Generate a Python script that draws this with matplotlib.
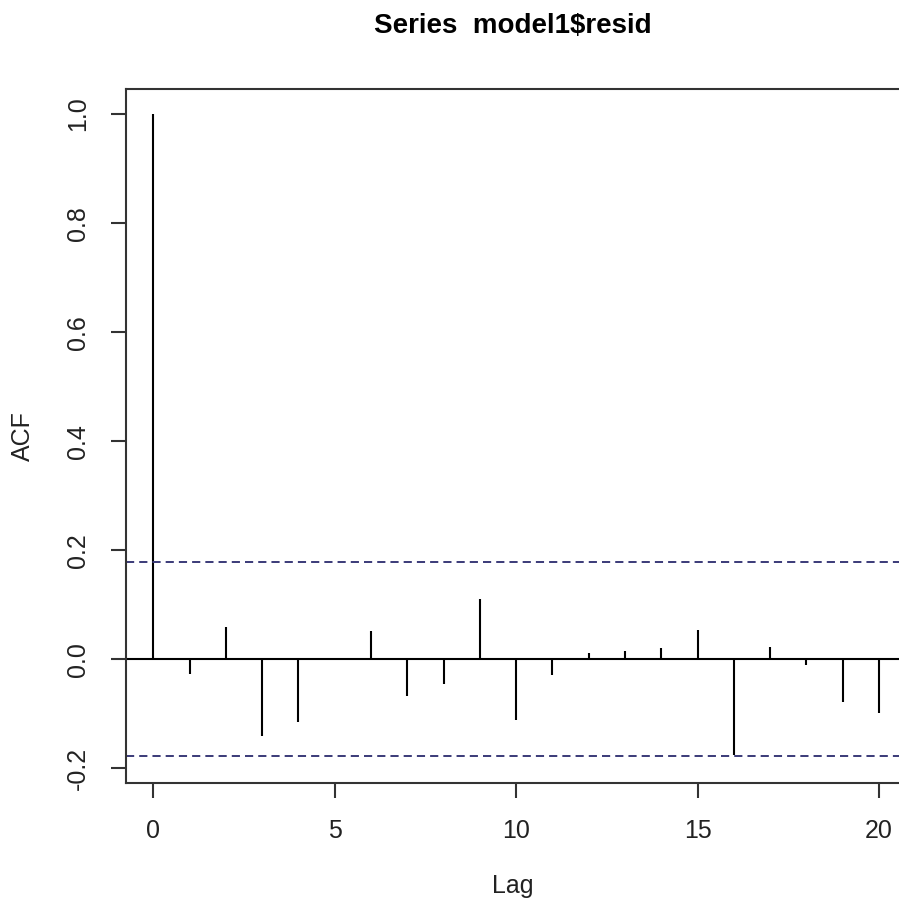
import matplotlib
matplotlib.use('Agg')
import matplotlib.pyplot as plt

# acf of residuals
lags = list(range(0, 21))
acf = [1.0, -0.027, 0.059, -0.140, -0.116, 0.002, 0.052, -0.068, -0.046, 0.111,
       -0.112, -0.028, 0.012, 0.016, 0.020, 0.053, -0.175, 0.023, -0.010, -0.079,
       -0.098]
conf = 0.178

plt.rcParams['font.family'] = ['Liberation Sans', 'DejaVu Sans']

fig = plt.figure(figsize=(8.99, 8.99), dpi=100)
W = H = 899.0
ax = fig.add_axes([126 / W, (H - 783) / H, 1 - 126 / W, (783 - 89) / H])

ax.vlines(lags, 0, acf, color='black', lw=1.5)
ax.axhline(0, color='black', lw=1.5)
ax.axhline(conf, color='#3a3a78', lw=1.4, dashes=(4.2, 2.6))
ax.axhline(-conf, color='#3a3a78', lw=1.4, dashes=(4.2, 2.6))

ax.set_xlim(-0.75, 20.55)
ax.set_ylim(-0.227, 1.046)
ax.set_xticks([0, 5, 10, 15, 20])
ax.set_yticks([-0.2, 0.0, 0.2, 0.4, 0.6, 0.8, 1.0])
ax.set_yticklabels(['-0.2', '0.0', '0.2', '0.4', '0.6', '0.8', '1.0'],
                   rotation=90, va='center')
ax.tick_params(length=11, width=1.5, color='#333333', labelsize=18,
               labelcolor='#222222', pad=15)
for side in ['left', 'bottom', 'top']:
    ax.spines[side].set_color('#333333')
    ax.spines[side].set_linewidth(1.5)
ax.spines['right'].set_visible(False)

ax.set_xlabel('Lag', fontsize=18, color='#222222')
ax.set_ylabel('ACF', fontsize=18, color='#222222')
ax.xaxis.set_label_coords(0.5, -0.148)
ax.yaxis.set_label_coords(-0.1334, 0.5)
ax.xaxis.label.set_va('center')
ax.yaxis.label.set_va('center')

fig.text((126 + 899) / 2 / W, 1 - 33 / H, 'Series  model1$resid',
         ha='center', va='baseline', fontsize=20, fontweight='bold')

fig.savefig('out.png', dpi=100)
